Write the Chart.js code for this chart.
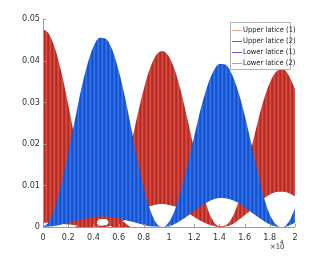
<!DOCTYPE html>
<html lang="en">
<head>
  <meta charset="UTF-8">
  <title>Lattice energy exchange</title>
  <script src="https://cdn.jsdelivr.net/npm/chart.js"></script>
  <style>
    html, body { margin: 0; padding: 0; background: #fff; }
    #wrap { width: 327px; height: 256px; }
  </style>
</head>
<body>
  <div id="wrap"><canvas id="latticeChart" width="327" height="256"></canvas></div>
  <script>
    // x positions (raw units, axis shows them x10^4)
    const xs = [0, 500, 1000, 1500, 2000, 2500, 3000, 3500, 4000, 4500,
                5000, 5500, 6000, 6500, 7000, 7500, 8000, 8500, 9000, 9500,
                10000, 10500, 11000, 11500, 12000, 12500, 13000, 13500, 14000, 14500,
                15000, 15500, 16000, 16500, 17000, 17500, 18000, 18500, 19000, 19500, 20000];

    // Upper lattice (2): top and bottom of the fast oscillation
    const upper2Max = [.0476, .0463, .0425, .0367, .0295, .0216, .0141, .0075, .0027, .0003,
                       .0004, .0028, .0072, .0132, .0200, .0269, .0332, .0382, .0414, .0423,
                       .0409, .0374, .0320, .0255, .0186, .0115, .0050, .0015, .0002, .0004,
                       .0022, .0060, .0124, .0185, .0247, .0304, .0347, .0373, .0380, .0365, .0332];
    const upper2Min = [.0010, .0010, .0009, .0008, .0006, .0005, .0003, .0002, .0001, 0,
                       0, .0004, .0009, .0017, .0026, .0035, .0043, .0050, .0054, .0055,
                       .0053, .0049, .0042, .0033, .0024, .0015, .0008, .0003, 0, .0001,
                       .0006, .0016, .0028, .0041, .0055, .0068, .0078, .0084, .0085, .0082, .0074];

    // Upper lattice (1): small band near the bottom
    const upper1Max = [0, 0, 0, 0, 0, 0, .0010, .0020, .0026, .0028,
                       .0028, .0026, .0020, .0010, 0, 0, 0, 0, 0, 0,
                       0, 0, 0, 0, 0, 0, 0, 0, 0, 0,
                       0, 0, 0, 0, 0, 0, 0, 0, 0, 0, 0];
    const upper1Min = [0, 0, 0, 0, 0, 0, 0, 0, 0, .0019,
                       .0019, 0, 0, 0, 0, 0, 0, 0, 0, 0,
                       0, 0, 0, 0, 0, 0, 0, 0, 0, 0,
                       0, 0, 0, 0, 0, 0, 0, 0, 0, 0, 0];

    // Lower lattice (1) top, Lower lattice (2) bottom of the blue band
    const lower1Max = [0, .0014, .0051, .0108, .0178, .0253, .0327, .0388, .0433, .0455,
                       .0452, .0426, .0377, .0313, .0238, .0163, .0095, .0042, .0009, 0,
                       .0012, .0044, .0093, .0153, .0218, .0282, .0335, .0373, .0392, .0390,
                       .0367, .0325, .0270, .0205, .0141, .0075, .0030, .0006, 0, .0012, .0045];
    const lower2 = [0, .0001, .0003, .0006, .0010, .0014, .0018, .0021, .0024, .0025,
                    .0025, .0023, .0021, .0017, .0013, .0009, .0005, .0002, .0001, 0,
                    .0002, .0008, .0017, .0027, .0039, .0050, .0059, .0066, .0070, .0069,
                    .0065, .0058, .0048, .0036, .0025, .0015, .0006, .0001, 0, .0003, .0010];

    const xTicks = [0, 2000, 4000, 6000, 8000, 10000, 12000, 14000, 16000, 18000, 20000];
    const yTicks = [0, 0.01, 0.02, 0.03, 0.04, 0.05];
    const legendNames = ['Upper latice (1)', 'Upper latice (2)', 'Lower latice (1)', 'Lower latice (2)'];
    const legendColors = ['#f4ad8c', '#c64450', '#5c5ce6', '#74aee2'];

    const FONT = "'Liberation Sans Narrow', 'DejaVu Sans Condensed', sans-serif";

    // vertical stripes to mimic the dense oscillation
    function stripes(colors) {
      const c = document.createElement('canvas');
      c.width = colors.length; c.height = 1;
      const g = c.getContext('2d');
      colors.forEach((col, i) => { g.fillStyle = col; g.fillRect(i, 0, 1, 1); });
      return g.createPattern(c, 'repeat');
    }
    const redFill = stripes(['#b7282d', '#cf3d31', '#d9503a', '#c2302e']);
    const blueFill = stripes(['#1251d2', '#2465e2', '#3674e6', '#1858d8']);

    const pts = arr => arr.map((v, i) => ({ x: xs[i], y: v }));

    const base = {
      pointRadius: 0,
      borderWidth: 0,
      cubicInterpolationMode: 'monotone'
    };

    const axesAndLegend = {
      id: 'axesAndLegend',
      afterDraw(chart) {
        const ctx = chart.ctx;
        const a = chart.chartArea;
        const sx = chart.scales.x, sy = chart.scales.y;
        ctx.save();
        ctx.strokeStyle = '#9c9c9c';
        ctx.lineWidth = 1;
        ctx.beginPath();
        ctx.moveTo(a.left + 0.5, a.top);
        ctx.lineTo(a.left + 0.5, a.bottom + 0.5);
        ctx.lineTo(a.right, a.bottom + 0.5);
        yTicks.forEach(v => {
          const py = Math.round(sy.getPixelForValue(v)) + 0.5;
          ctx.moveTo(a.left, py); ctx.lineTo(a.left + 3, py);
        });
        xTicks.forEach(v => {
          const px = Math.round(sx.getPixelForValue(v)) + 0.5;
          ctx.moveTo(px, a.bottom); ctx.lineTo(px, a.bottom - 3);
        });
        ctx.stroke();

        // exponent label
        ctx.fillStyle = '#333';
        ctx.textBaseline = 'alphabetic';
        ctx.textAlign = 'left';
        ctx.font = '7.5px ' + FONT;
        ctx.fillText('\u00d710', 270, 249);
        ctx.font = '6px ' + FONT;
        ctx.fillText('4', 280, 244);

        // legend box
        const bx = 230.5, by = 22.5, bw = 60, bh = 47;
        ctx.fillStyle = '#fff';
        ctx.fillRect(bx, by, bw, bh);
        ctx.strokeStyle = '#b4b4b4';
        ctx.strokeRect(bx, by, bw, bh);
        ctx.font = '7.5px ' + FONT;
        ctx.textBaseline = 'middle';
        legendNames.forEach((name, i) => {
          const ly = 30.5 + i * 11;
          ctx.strokeStyle = legendColors[i];
          ctx.beginPath();
          ctx.moveTo(232, ly); ctx.lineTo(242, ly);
          ctx.stroke();
          ctx.fillStyle = '#222';
          ctx.fillText(name, 243, ly);
        });
        ctx.restore();
      }
    };

    new Chart(document.getElementById('latticeChart'), {
      type: 'line',
      data: {
        datasets: [
          { ...base, label: 'Upper lattice (1)', data: pts(upper1Max), fill: { target: 1 }, backgroundColor: redFill, order: 6 },
          { ...base, label: 'Upper lattice (1) min', data: pts(upper1Min), fill: false, order: 7 },
          { ...base, label: 'Upper lattice (2)', data: pts(upper2Max), fill: { target: 3 }, backgroundColor: redFill, order: 4 },
          { ...base, label: 'Upper lattice (2) min', data: pts(upper2Min), fill: false, order: 5 },
          { ...base, label: 'Lower lattice (1)', data: pts(lower1Max), fill: { target: 5 }, backgroundColor: blueFill, order: 1 },
          { ...base, label: 'Lower lattice (2)', data: pts(lower2), fill: false, order: 2 }
        ]
      },
      options: {
        responsive: false,
        animation: false,
        devicePixelRatio: 1,
        layout: { padding: { top: 19, right: 32, left: 0, bottom: 0 } },
        plugins: { legend: { display: false }, tooltip: { enabled: false } },
        scales: {
          x: {
            type: 'linear',
            min: 0, max: 20000,
            grid: { display: false, drawTicks: false },
            border: { display: false },
            afterBuildTicks: s => { s.ticks = xTicks.map(v => ({ value: v })); },
            afterFit: s => { s.height = 29; },
            ticks: {
              padding: 5,
              color: '#333',
              maxRotation: 0,
              font: { family: FONT, size: 9 },
              callback: v => String(parseFloat((v / 10000).toFixed(1)))
            }
          },
          y: {
            min: 0, max: 0.05,
            grid: { display: false, drawTicks: false },
            border: { display: false },
            afterBuildTicks: s => { s.ticks = yTicks.map(v => ({ value: v })); },
            afterFit: s => { s.width = 43; },
            ticks: {
              padding: 3,
              color: '#333',
              font: { family: FONT, size: 9 },
              callback: v => String(parseFloat(v.toFixed(2)))
            }
          }
        }
      },
      plugins: [axesAndLegend]
    });
  </script>
</body>
</html>
